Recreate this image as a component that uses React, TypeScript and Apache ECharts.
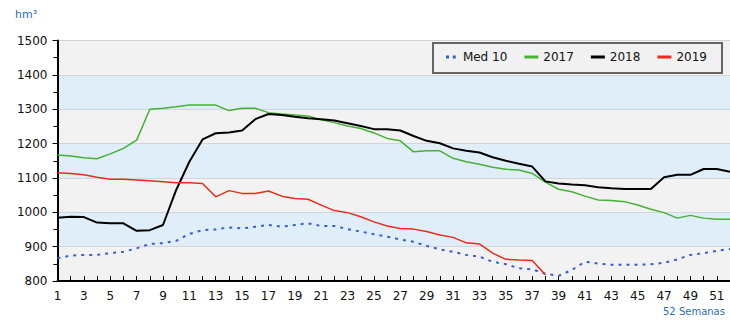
import React, { useEffect, useRef } from 'react';
import * as echarts from 'echarts';

const weeks: string[] = Array.from({ length: 52 }, (_, i) => String(i + 1));

const med10: number[] = [866, 874, 876, 876, 881, 885, 895, 908, 910, 917, 937, 948, 950, 956, 953, 958, 963, 958, 963, 968, 960, 960, 951, 944, 936, 929, 921, 914, 902, 892, 885, 876, 871, 856, 849, 837, 834, 821, 815, 832, 856, 851, 847, 847, 847, 849, 853, 863, 876, 881, 888, 893];
const y2017: number[] = [1167, 1164, 1159, 1156, 1170, 1186, 1210, 1300, 1303, 1307, 1312, 1312, 1312, 1296, 1303, 1303, 1290, 1286, 1283, 1280, 1269, 1261, 1251, 1244, 1231, 1215, 1208, 1176, 1179, 1179, 1157, 1147, 1140, 1131, 1125, 1123, 1113, 1088, 1067, 1060, 1047, 1036, 1034, 1031, 1021, 1009, 999, 983, 991, 983, 980, 980];
const y2018: number[] = [984, 987, 986, 970, 968, 968, 946, 948, 963, 1065, 1147, 1212, 1230, 1232, 1238, 1271, 1286, 1283, 1278, 1274, 1271, 1267, 1259, 1251, 1242, 1242, 1238, 1222, 1208, 1201, 1186, 1179, 1174, 1160, 1150, 1141, 1133, 1090, 1084, 1081, 1079, 1073, 1070, 1068, 1068, 1068, 1102, 1109, 1109, 1126, 1126, 1118];
const y2019: (number | null)[] = [1115, 1113, 1109, 1102, 1096, 1096, 1094, 1092, 1089, 1086, 1086, 1084, 1045, 1063, 1055, 1055, 1062, 1047, 1040, 1038, 1021, 1005, 999, 987, 972, 960, 953, 951, 944, 934, 927, 911, 908, 881, 863, 861, 860, 818, null, null, null, null, null, null, null, null, null, null, null, null, null, null];

const seriesNames = ['Med 10', '2017', '2018', '2019'];
const FONT = 'DejaVu Sans';
const BLUE_TEXT = '#2f6db5';

export default function App() {
  const ref = useRef<HTMLDivElement>(null);
  useEffect(() => {
    document.body.style.margin = '0';
    const chart = echarts.init(ref.current!, null, { renderer: 'svg' });
    chart.setOption({
      animation: false,
      backgroundColor: '#ffffff',
      textStyle: { fontFamily: FONT },
      grid: { left: 57.5, top: 40.5, width: 673, height: 240.5 },
      legend: {
        left: 446,
        top: 43,
        width: 400,
        padding: [8, 0, 8, 0],
        itemGap: 17,
        itemWidth: 14,
        itemHeight: 3,
        z: 10,
        textStyle: { fontSize: 12, color: '#111', fontFamily: FONT },
        data: [
          { name: seriesNames[0], icon: 'path://M0,0h4v4h-4z M9,0h4v4h-4z' },
          { name: seriesNames[1], icon: 'rect' },
          { name: seriesNames[2], icon: 'rect' },
          { name: seriesNames[3], icon: 'rect' },
        ],
      },
      xAxis: {
        type: 'category',
        data: weeks,
        boundaryGap: false,
        axisLine: { lineStyle: { color: '#000', width: 2 } },
        axisTick: { inside: true, length: 5, interval: 0, lineStyle: { color: '#000' } },
        axisLabel: { interval: 1, margin: 9, color: '#111', fontSize: 12, fontFamily: FONT },
        splitLine: { show: false },
      },
      yAxis: {
        type: 'value',
        min: 800,
        max: 1500,
        interval: 100,
        axisLine: { show: true, lineStyle: { color: '#000', width: 2 } },
        axisTick: { show: true, length: 5, lineStyle: { color: '#000' } },
        minorTick: { show: true, splitNumber: 2, length: 4, lineStyle: { color: '#000' } },
        axisLabel: { margin: 10, color: '#111', fontSize: 12, fontFamily: FONT, formatter: (v: number) => String(v) },
        splitLine: { lineStyle: { color: '#cfd5da' } },
        splitArea: { show: true, areaStyle: { color: ['#f2f2f2', '#e0eef9'] } },
      },
      series: [
        {
          name: seriesNames[0], type: 'line', data: med10, symbol: 'none', showSymbol: false,
          lineStyle: { color: '#3a5fcd', width: 2, type: [3, 5] }, itemStyle: { color: '#3a5fcd' },
        },
        {
          name: seriesNames[1], type: 'line', data: y2017, symbol: 'none', showSymbol: false,
          lineStyle: { color: '#44b233', width: 1.5 }, itemStyle: { color: '#44b233' },
        },
        {
          name: seriesNames[2], type: 'line', data: y2018, symbol: 'none', showSymbol: false,
          lineStyle: { color: '#000000', width: 2 }, itemStyle: { color: '#000000' },
        },
        {
          name: seriesNames[3], type: 'line', data: y2019, symbol: 'none', showSymbol: false,
          lineStyle: { color: '#ee2a1b', width: 1.5 }, itemStyle: { color: '#ee2a1b' },
        },
      ],
      graphic: [
        {
          type: 'rect', z: 5, shape: { x: 433, y: 43, width: 289, height: 30 },
          style: { fill: '#f1f1f1', stroke: '#666', lineWidth: 2 },
        },
        { type: 'text', left: 15, top: 9, style: { text: 'hm³', fill: BLUE_TEXT, font: `11px "${FONT}"` } },
        { type: 'text', left: 63, top: 44, style: { text: 'WWW.EMBALSES.NET', fill: BLUE_TEXT, font: `15px "${FONT}"` } },
        { type: 'text', left: 663, top: 306, style: { text: '52 Semanas', fill: BLUE_TEXT, font: `10px "${FONT}"` } },
      ],
    });
    return () => chart.dispose();
  }, []);
  return <div ref={ref} style={{ width: 730, height: 320 }} />;
}
